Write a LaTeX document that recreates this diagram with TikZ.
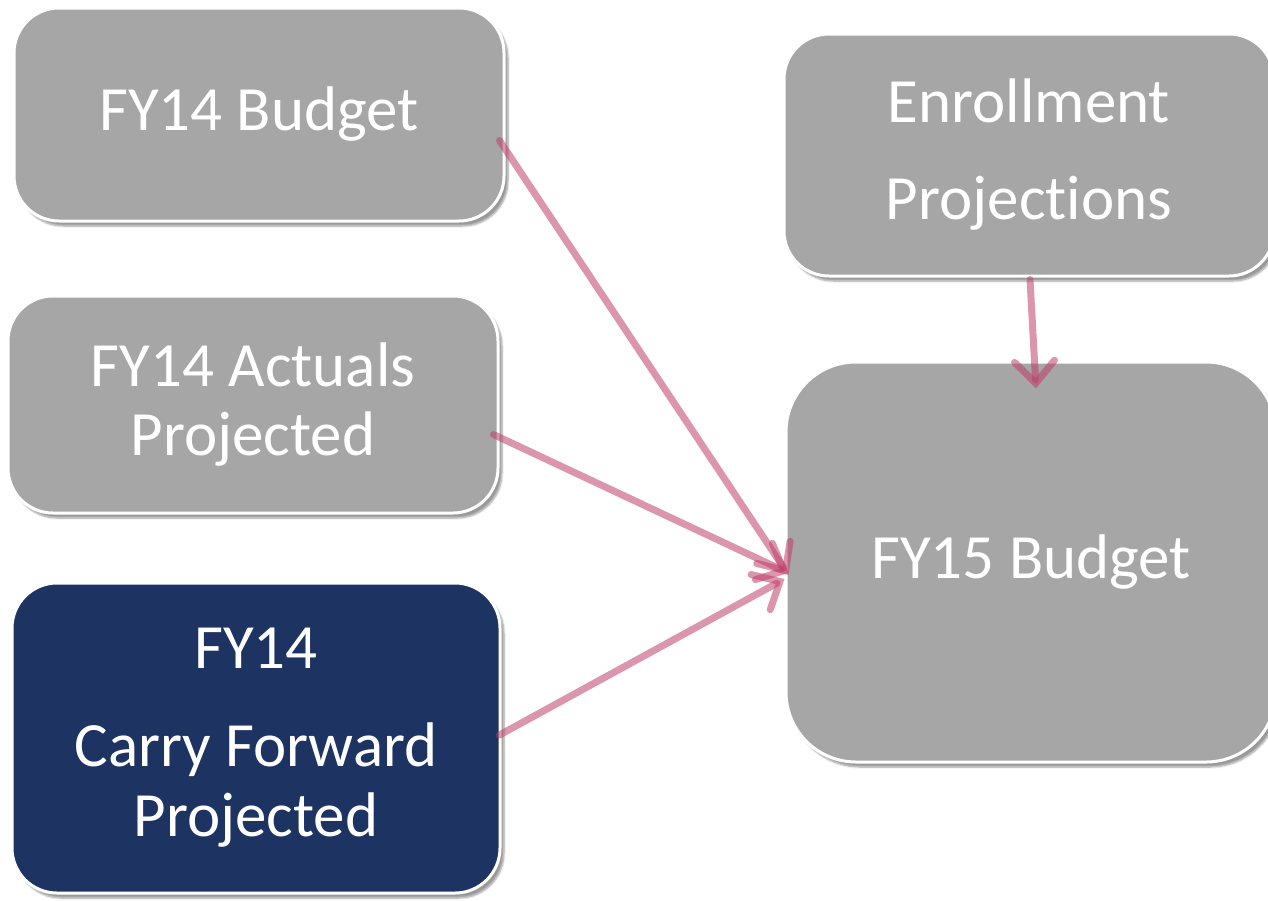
\documentclass[tikz,border=0pt]{standalone}
\usepackage{fontspec}
\setmainfont[Ligatures={NoCommon}]{Carlito}
\usetikzlibrary{arrows.meta,shadows.blur,calc}
\definecolor{boxgray}{HTML}{A6A6A6}
\definecolor{navy}{HTML}{1D3362}
\definecolor{arrowpink}{RGB}{190,62,105}
\tikzset{
  box/.style={draw=white, line width=3pt, fill=boxgray, rounded corners=45pt,
    text=white, align=center, inner sep=0pt,
    font=\fontsize{63}{70}\selectfont,
    blur shadow={shadow xshift=4pt, shadow yshift=-5pt, shadow opacity=40, shadow blur steps=6}},
  link/.style={draw=arrowpink, draw opacity=0.55, line width=7pt, line cap=round,
    -{Straight Barb[length=22pt,width=40pt,line cap=round]}}
}
\begin{document}
\begin{tikzpicture}[x=1pt,y=-1pt]
\useasboundingbox (0,0) rectangle (1268,900);
\node[box, minimum width=490pt, minimum height=213pt] (b1) at (259,114.5) {FY14 Budget};
\node[box, minimum width=490pt, minimum height=217pt] (b2) at (253,404.5) {FY14 Actuals\\[-1pt]Projected};
\node[box, fill=navy, minimum width=488pt, minimum height=310pt] (b3) at (256,738) {FY14\\[28pt]Carry Forward\\Projected};
\node[box, minimum width=490pt, minimum height=242pt] (b4) at (1029,155) {Enrollment\\[27pt]Projections};
\node[box, rounded corners=70pt, minimum width=490pt, minimum height=400pt] (b5) at (1031,562) {FY15 Budget};
\draw[link] ([shift={(-6,26)}]b1.east) -- ([shift={(4,13)}]b5.west);
\draw[link] ([shift={(-6,30)}]b2.east) -- ([shift={(4,11)}]b5.west);
\draw[link] ([shift={(-2,-3)}]b3.east) -- ([shift={(0,17)}]b5.west);
\draw[link] ([shift={(1,2)}]b4.south) -- ([shift={(5,28)}]b5.north);
\end{tikzpicture}
\end{document}
